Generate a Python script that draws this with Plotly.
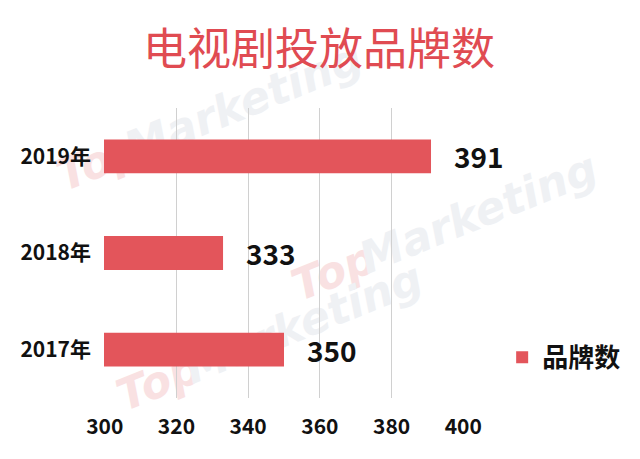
import math
import plotly.graph_objects as go

categories = ["2017年", "2018年", "2019年"]
values = [350, 333, 391]
series_name = "品牌数"
x_ticks = [300, 320, 340, 360, 380, 400]
title_text = "电视剧投放品牌数"
watermark_parts = [("Top", "#F9E1E2", -116), ("Marketing", "#EFF1F4", 40)]

BAR = "#E3555B"
FONT = "Noto Sans CJK SC"

W, H = 640, 459
L, R, T, B = 96, 184, 100, 69
PW, PH = W - L - R, H - T - B
ANG = 22

fig = go.Figure()
fig.add_trace(go.Bar(
    y=categories, x=values, orientation="h", name=series_name,
    marker=dict(color=BAR, line=dict(width=0)), width=0.35,
    showlegend=True,
))

# faint watermark rows drawn beneath the data (page pixel centres)
wm_centres = [(205, 115), (440, 225), (265, 335)]
ca, sa = math.cos(math.radians(ANG)), math.sin(math.radians(ANG))
for px, py in wm_centres:
    for word, col, off in watermark_parts:
        cx, cy = px + off * ca, py - off * sa
        xp = (cx - 8 - L) / PW
        yp = (H - B - (cy - 8)) / PH
        fig.add_shape(type="rect", xref="paper", yref="paper", layer="below",
                      x0=xp - 0.001, x1=xp + 0.001, y0=yp - 0.001, y1=yp + 0.001,
                      line=dict(width=0), fillcolor="rgba(0,0,0,0)",
                      label=dict(text=word, textangle=-ANG, textposition="middle center",
                                 font=dict(family="DejaVu Sans", size=44, color=col,
                                           weight=700, style="italic")))

# value labels
for c, v in zip(categories, values):
    fig.add_annotation(x=v, y=c, xref="x", yref="y", text=str(v),
                       showarrow=False, xanchor="left", yanchor="middle",
                       xshift=21, font=dict(family=FONT, size=28, color="#111111", weight=700))

fig.update_layout(
    width=W, height=H,
    margin=dict(l=L, r=R, t=T, b=B, autoexpand=False),
    paper_bgcolor="white", plot_bgcolor="rgba(0,0,0,0)",
    title=dict(text=title_text, x=(319 - 8) / W, xanchor="center", xref="container",
               y=1 - 42 / H, yanchor="middle", yref="container",
               font=dict(family=FONT, size=44, color="#E04B52")),
    xaxis=dict(range=[299.8, 400.2], tickvals=x_ticks, showgrid=True, gridcolor="#D0D0D0", gridwidth=1,
               zeroline=False, showline=False, ticklabelstandoff=14, automargin=False,
               tickfont=dict(family=FONT, size=21, color="#111111", weight=700)),
    yaxis=dict(type="category", categoryorder="array", categoryarray=categories,
               showgrid=False, showline=False, zeroline=False, ticklabelstandoff=12, automargin=False,
               tickfont=dict(family=FONT, size=21, color="#111111", weight=700)),
    legend=dict(x=1.106, xanchor="left", y=0.14,
                yanchor="middle", xref="paper", yref="paper",
                font=dict(family=FONT, size=26, color="#111111", weight=700),
                bgcolor="rgba(0,0,0,0)", itemwidth=30),
    bargap=0.65,
)

fig.write_html("out.html")
